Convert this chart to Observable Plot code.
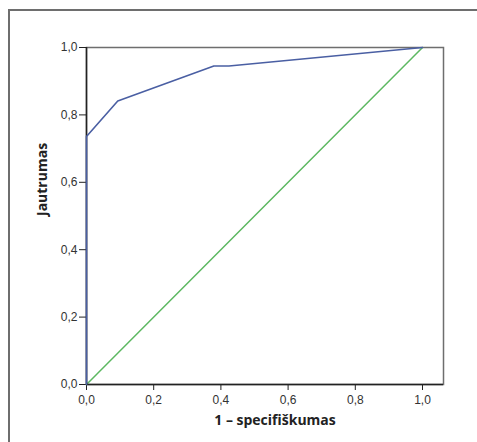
<!DOCTYPE html>
<html>
<head>
<meta charset="utf-8">
<script src="https://cdn.jsdelivr.net/npm/d3@7"></script>
<script src="https://cdn.jsdelivr.net/npm/@observablehq/plot@0.6"></script>
<style>
  html, body { margin: 0; padding: 0; background: #fff; }
  #wrap { position: relative; width: 477px; height: 442px; overflow: hidden; }
  #border { position: absolute; left: 8px; top: 9px; width: 500px; height: 500px; border-left: 2px solid #6e6e6e; border-top: 2px solid #6e6e6e; box-sizing: border-box; }
  #chart { position: absolute; left: 0; top: 0; }
</style>
</head>
<body>
<div id="wrap"><div id="border"></div><div id="chart"></div></div>
<script>
// ROC curve points (1 - specificity, sensitivity)
const rocFpr = [0.0, 0.0, 0.093, 0.379, 0.424, 1.0];
const rocTpr = [0.0, 0.736, 0.841, 0.945, 0.945, 1.0];
// reference (diagonal) line
const refX = [0, 1];
const refY = [0, 1];
const tickValues = [0, 0.2, 0.4, 0.6, 0.8, 1.0];
const xLabel = "1 – specifiškumas";
const yLabel = "Jautrumas";

const roc = rocFpr.map((x, i) => ({x, y: rocTpr[i]}));
const ref = refX.map((x, i) => ({x, y: refY[i]}));
const fmt = d => d3.format(".1f")(d).replace(".", ",");

const chart = Plot.plot({
  width: 477,
  height: 442,
  marginLeft: 86,
  marginRight: 34,
  marginTop: 47,
  marginBottom: 58,
  style: {background: "transparent", fontFamily: "'Liberation Sans', Arial, sans-serif", fontSize: "12px", color: "#333"},
  x: {domain: [0, 1.0625]},
  y: {domain: [0, 1]},
  marks: [
    Plot.frame({stroke: "#6e6e6e", strokeWidth: 1.5}),
    Plot.axisX({ticks: tickValues, tickFormat: fmt, tickSize: 6, tickPadding: 5, label: null, stroke: "#222", fontSize: 12}),
    Plot.axisY({ticks: tickValues, tickFormat: fmt, tickSize: 7, tickPadding: 2, label: null, stroke: "#222", fontSize: 12}),
    Plot.line(ref, {x: "x", y: "y", stroke: "#5cb861", strokeWidth: 1.5}),
    Plot.ruleY([0], {stroke: "#222", strokeWidth: 1.5}),
    Plot.ruleX([0], {stroke: "#222", strokeWidth: 1.5}),
    Plot.line(roc, {x: "x", y: "y", stroke: "#4a5fa3", strokeWidth: 1.6}),
    Plot.text([xLabel], {frameAnchor: "bottom", dy: 40, dx: 10, text: d => d, fontFamily: "Open Sans", fontWeight: "bold", fontSize: 14, fill: "#222"}),
    Plot.text([yLabel], {frameAnchor: "left", dx: -44, rotate: -90, text: d => d, fontFamily: "Open Sans", fontWeight: "bold", fontSize: 14, fill: "#222"})
  ]
});
document.getElementById("chart").appendChild(chart);
</script>
</body>
</html>
